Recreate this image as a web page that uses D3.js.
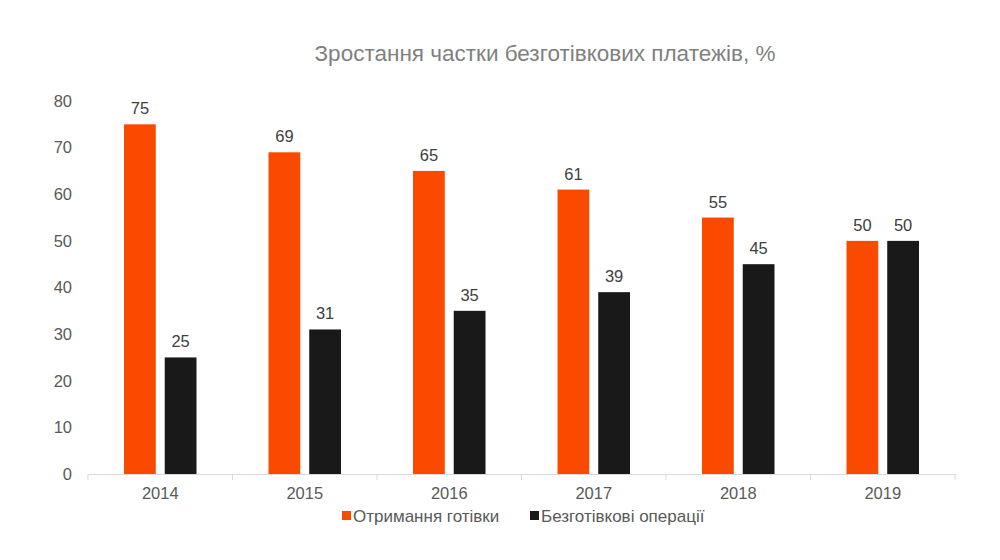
<!DOCTYPE html>
<html>
<head>
<meta charset="utf-8">
<script src="https://cdn.jsdelivr.net/npm/d3@7"></script>
<style>
  body { margin: 0; background: #fff; }
  svg text { font-family: "Liberation Sans", Arial, sans-serif; }
</style>
</head>
<body>
<svg id="chart" width="1000" height="560"></svg>
<script>
const years = ["2014", "2015", "2016", "2017", "2018", "2019"];
const cashValues = [75, 69, 65, 61, 55, 50];
const cashlessValues = [25, 31, 35, 39, 45, 50];
const seriesNames = ["Отримання готівки", "Безготівкові операції"];
const seriesColors = ["#FA4A00", "#1A1919"];
const yTicks = [0, 10, 20, 30, 40, 50, 60, 70, 80];

const svg = d3.select("#chart");
const margin = { top: 101, right: 45, bottom: 86, left: 88 };
const width = 1000 - margin.left - margin.right;
const height = 560 - margin.top - margin.bottom;

const chart = svg.append("g")
  .attr("transform", `translate(${margin.left},${margin.top})`);

// title
svg.append("text")
  .attr("x", 545)
  .attr("y", 61)
  .attr("text-anchor", "middle")
  .style("font-size", "22.5px")
  .style("fill", "#7f7f7f")
  .text("Зростання частки безготівкових платежів, %");

const x = d3.scaleBand()
  .domain(years)
  .range([0, width]);

const x1 = d3.scaleBand()
  .domain([0, 1])
  .range([36, x.bandwidth() - 36])
  .paddingInner(0.22);

const y = d3.scaleLinear()
  .domain([0, 80])
  .range([height, 0]);

// y axis labels (no line)
chart.selectAll(".y-label")
  .data(yTicks)
  .enter().append("text")
  .attr("class", "y-label")
  .attr("x", -16)
  .attr("y", d => y(d))
  .attr("dy", "0.35em")
  .attr("text-anchor", "end")
  .style("font-size", "16.5px")
  .style("fill", "#595959")
  .text(d => d);

// x axis
const xAxis = chart.append("g")
  .attr("transform", `translate(0,${height})`)
  .call(d3.axisBottom(x).tickSize(0).tickPadding(13));
xAxis.select(".domain").attr("stroke", "#d9d9d9");
xAxis.selectAll("text")
  .style("font-size", "16.5px")
  .style("fill", "#595959");

// category boundary ticks
chart.selectAll(".cat-tick")
  .data(d3.range(years.length + 1))
  .enter().append("line")
  .attr("x1", i => i * x.step())
  .attr("x2", i => i * x.step())
  .attr("y1", height)
  .attr("y2", height + 6)
  .attr("stroke", "#d9d9d9");

const rows = years.map((yr, i) => ({ year: yr, values: [cashValues[i], cashlessValues[i]] }));

const groups = chart.selectAll(".year-group")
  .data(rows)
  .enter().append("g")
  .attr("transform", d => `translate(${x(d.year)},0)`);

groups.selectAll("rect")
  .data(d => d.values.map((v, k) => ({ k, v })))
  .enter().append("rect")
  .attr("x", d => x1(d.k))
  .attr("y", d => y(d.v))
  .attr("width", x1.bandwidth())
  .attr("height", d => height - y(d.v))
  .attr("fill", d => seriesColors[d.k]);

groups.selectAll(".bar-label")
  .data(d => d.values.map((v, k) => ({ k, v })))
  .enter().append("text")
  .attr("class", "bar-label")
  .attr("x", d => x1(d.k) + x1.bandwidth() / 2)
  .attr("y", d => y(d.v) - 10)
  .attr("text-anchor", "middle")
  .style("font-size", "16.5px")
  .style("fill", "#404040")
  .text(d => d.v);

// legend
const legend = svg.append("g").attr("transform", "translate(342,516)");
const legendX = [0, 188];
seriesNames.forEach((name, k) => {
  const g = legend.append("g").attr("transform", `translate(${legendX[k]},0)`);
  g.append("rect")
    .attr("x", 0).attr("y", -5)
    .attr("width", 9).attr("height", 9)
    .attr("fill", seriesColors[k]);
  g.append("text")
    .attr("x", 11)
    .attr("y", 0)
    .attr("dy", "0.35em")
    .style("font-size", "17px")
    .style("fill", "#595959")
    .text(name);
});
</script>
</body>
</html>
